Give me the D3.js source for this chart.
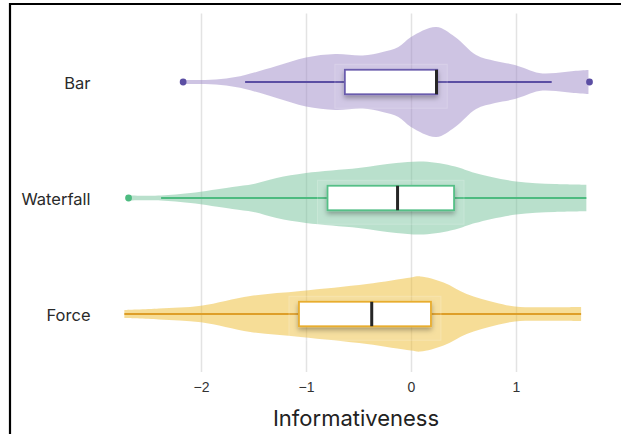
<!DOCTYPE html>
<html>
<head>
<meta charset="utf-8">
<script src="https://cdn.jsdelivr.net/npm/d3@7"></script>
<style>
    body { margin: 0; background: #fff; }
    svg { display: block; font-family: Inter, "Noto Sans", sans-serif; }
</style>
</head>
<body>
<div id="wrapper"></div>
<script>
//1. Data
const categories = ['Bar', 'Waterfall', 'Force'];
const xTicks = [-2, -1, 0, 1];

// violin outline: [value, half width of density]
const barDensity = [[-2.17, 2], [-1.96, 2], [-1.76, 3.5], [-1.58, 7], [-1.28, 16], [-1.0, 24.5],
    [-0.72, 28], [-0.46, 26.5], [-0.27, 30], [-0.12, 35], [0.0, 45], [0.24, 55], [0.42, 45],
    [0.62, 27], [0.8, 21], [0.99, 17], [1.22, 9], [1.38, 9], [1.55, 11], [1.69, 12]];
const waterfallDensity = [[-2.69, 2.5], [-2.38, 2.5], [-2.1, 5], [-1.7, 11], [-1.5, 14], [-1.28, 20],
    [-1.0, 25], [-0.5, 30], [-0.14, 35], [0.12, 36.5], [0.42, 31.5], [0.61, 25], [1.0, 16.5],
    [1.37, 14], [1.67, 13.3]];
const forceDensity = [[-2.73, 4], [-2.4, 5.5], [-2.0, 8.3], [-1.53, 18], [-1.05, 23], [-0.42, 30],
    [0.0, 36.6], [0.09, 37.6], [0.31, 31.6], [0.53, 20], [0.8, 11.6], [0.99, 7.6], [1.3, 6.8],
    [1.62, 7]];

// box plot stats: [whiskerLow, q1, median, q3, whiskerHigh]
const barStats = [-1.58, -0.63, 0.243, 0.25, 1.34];
const waterfallStats = [-2.38, -0.795, -0.128, 0.41, 1.67];
const forceStats = [-2.73, -1.067, -0.374, 0.19, 1.62];

// outliers
const barOutliers = [-2.17, 1.70];
const waterfallOutliers = [-2.69];
const forceOutliers = [];

const fills = ['#9d89c7', '#73c199', '#edbb2f'];
const lineColors = ['#5b4ea3', '#4dbb80', '#de9e28'];
const boxColors = ['#6a5cad', '#55bf87', '#e8ad2e'];

const groups = categories.map((c, i) => ({
    name: c,
    density: [barDensity, waterfallDensity, forceDensity][i],
    stats: [barStats, waterfallStats, forceStats][i],
    outliers: [barOutliers, waterfallOutliers, forceOutliers][i],
    fill: fills[i],
    line: lineColors[i],
    box: boxColors[i]
}));

//2. Dimensions
const dimensions = {
    width: 621,
    height: 434,
    gridTop: 13.5,
    gridBottom: 372
};

//3. Canvas
const wrapper = d3.select('#wrapper')
    .append('svg')
    .attr('width', dimensions.width)
    .attr('height', dimensions.height);

const defs = wrapper.append('defs');
defs.append('filter')
    .attr('id', 'shadow')
    .attr('x', '-20%').attr('y', '-30%')
    .attr('width', '140%').attr('height', '180%')
    .append('feDropShadow')
    .attr('dx', 0).attr('dy', 3)
    .attr('stdDeviation', 2.5)
    .attr('flood-color', '#000')
    .attr('flood-opacity', 0.3);

//4. Scales
const xScale = d3.scaleLinear()
    .domain([-2, 1])
    .range([201, 516]);
const yScale = d3.scalePoint()
    .domain(categories)
    .range([82, 314]);
const wScale = d3.scaleLinear()
    .domain([0, 55])
    .range([0, 55]);

//5. Grid + axis
const xAxisGenerator = d3.axisBottom(xScale)
    .tickValues(xTicks)
    .tickFormat(d3.format('d'))
    .tickSize(-(dimensions.gridBottom - dimensions.gridTop))
    .tickPadding(10);
const xAxis = wrapper.append('g')
    .attr('transform', `translate(0, ${dimensions.gridBottom})`)
    .call(xAxisGenerator);
xAxis.select('.domain').remove();
xAxis.selectAll('line')
    .attr('stroke', '#e3e3e3')
    .attr('stroke-width', 1.5);
xAxis.selectAll('text')
    .attr('fill', '#333')
    .style('font-size', '14px');

wrapper.append('text')
    .attr('x', 356)
    .attr('y', 425.5)
    .attr('text-anchor', 'middle')
    .attr('fill', '#222')
    .style('font-size', '22px')
    .text('Informativeness');

//6. Violins, boxes
const bounds = wrapper.append('g');

groups.forEach(g => {
    const cy = yScale(g.name);
    const area = d3.area()
        .x(d => xScale(d[0]))
        .y0(d => cy - wScale(d[1]))
        .y1(d => cy + wScale(d[1]))
        .curve(d3.curveCatmullRom);

    const grp = bounds.append('g');

    grp.append('path')
        .datum(g.density)
        .attr('d', area)
        .attr('fill', g.fill)
        .attr('fill-opacity', 0.5);

    // whisker
    grp.append('line')
        .attr('x1', xScale(g.stats[0]))
        .attr('x2', xScale(g.stats[4]))
        .attr('y1', cy)
        .attr('y2', cy)
        .attr('stroke', g.line)
        .attr('stroke-width', 2);

    const bx = xScale(g.stats[1]);
    const bw = xScale(g.stats[3]) - bx;
    const bh = 24.5;

    // faint region behind box
    grp.append('rect')
        .attr('x', bx - 10)
        .attr('y', cy - bh / 2 - 5.5)
        .attr('width', bw + 20)
        .attr('height', bh + 19.5)
        .attr('fill', '#fff')
        .attr('fill-opacity', 0.08)
        .attr('stroke', '#fff')
        .attr('stroke-opacity', 0.2)
        .attr('stroke-width', 1);

    grp.append('rect')
        .attr('x', bx)
        .attr('y', cy - bh / 2)
        .attr('width', bw)
        .attr('height', bh)
        .attr('fill', '#fff')
        .attr('stroke', g.box)
        .attr('stroke-width', 1.8)
        .attr('filter', 'url(#shadow)');

    // median
    grp.append('line')
        .attr('x1', xScale(g.stats[2]))
        .attr('x2', xScale(g.stats[2]))
        .attr('y1', cy - bh / 2)
        .attr('y2', cy + bh / 2)
        .attr('stroke', '#262626')
        .attr('stroke-width', 3);

    grp.selectAll('circle')
        .data(g.outliers)
        .join('circle')
        .attr('cx', d => xScale(d))
        .attr('cy', cy)
        .attr('r', 3.4)
        .attr('fill', g.line);

    wrapper.append('text')
        .attr('x', 90.5)
        .attr('y', cy + 7)
        .attr('text-anchor', 'end')
        .attr('fill', '#2a2a2a')
        .style('font-size', '16.5px')
        .text(g.name);
});

//7. Frame
wrapper.append('line')
    .attr('x1', 9).attr('x2', 621)
    .attr('y1', 4).attr('y2', 4)
    .attr('stroke', '#000').attr('stroke-width', 2.2);
wrapper.append('line')
    .attr('x1', 10).attr('x2', 10)
    .attr('y1', 3).attr('y2', 434)
    .attr('stroke', '#000').attr('stroke-width', 2.2);
</script>
</body>
</html>
